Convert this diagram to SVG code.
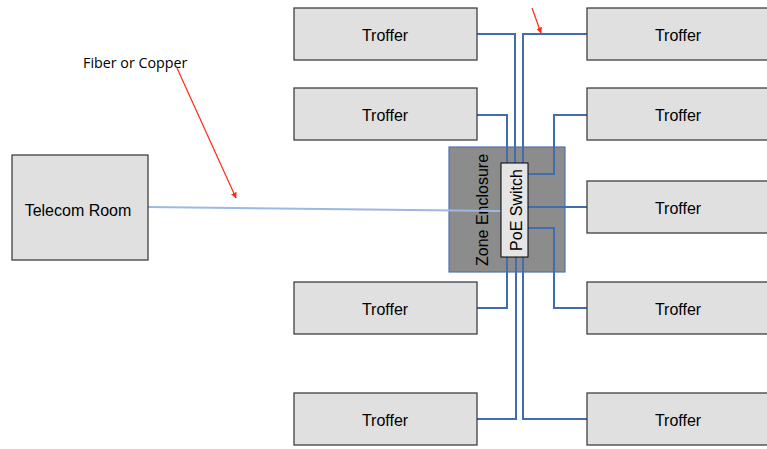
<svg xmlns="http://www.w3.org/2000/svg" width="767" height="449" viewBox="0 0 767 449">
<defs>
<style>
.box{fill:#e0e0e0;stroke:#404040;stroke-width:1.3}
.lbl{font-family:"Liberation Sans",Arial,sans-serif;font-size:16px;fill:#000;text-anchor:middle}
.cable{fill:none;stroke:#3f6db0;stroke-width:2}
.red{stroke:#ff2a10;stroke-width:1.2;fill:none;marker-end:url(#ah)}
</style>
<marker id="ah" viewBox="0 0 10 10" refX="9" refY="5" markerWidth="6" markerHeight="6" orient="auto" markerUnits="userSpaceOnUse">
<path d="M0,0 L10,5 L0,10 z" fill="#ff2a10"/>
</marker>
</defs>
<rect width="767" height="449" fill="#fff"/>

<g id="zone">
<rect x="449" y="147" width="116" height="125" fill="#8c8c8c" stroke="#4d74b3" stroke-width="1.2"/>
<text class="lbl" transform="translate(488,210) rotate(-90)" font-size="17px">Zone Enclosure</text>
</g>

<g id="connectors">
<line x1="148" y1="207" x2="501" y2="211" stroke="#9db8e2" stroke-width="2"/>
<polyline class="cable" points="477,34 515,34 515,163"/>
<polyline class="cable" points="587,34 523,34 523,163"/>
<polyline class="cable" points="477,115 507,115 507,163"/>
<polyline class="cable" points="587,115 554,115 554,174 528,174"/>
<polyline class="cable" points="528,207 587,207"/>
<polyline class="cable" points="528,228 554,228 554,308 587,308"/>
<polyline class="cable" points="477,308 507,308 507,257"/>
<polyline class="cable" points="477,419 516,419 516,257"/>
<polyline class="cable" points="587,419 523,419 523,257"/>
<line class="red" x1="177" y1="68" x2="236" y2="198"/>
<line class="red" x1="532" y1="8" x2="541" y2="33"/>
</g>

<g id="poe">
<rect x="501" y="163" width="27" height="94" fill="#e5e5e5" stroke="#000" stroke-width="1"/>
<text class="lbl" transform="translate(522,210) rotate(-90)" font-size="18px">PoE Switch</text>
</g>

<g id="telecom">
<rect class="box" x="12" y="155" width="136" height="105"/>
<text class="lbl" x="78" y="216">Telecom Room</text>
</g>

<g id="fiber-label">
<text x="83" y="68" font-family="'Open Sans','Liberation Sans',sans-serif" font-size="14.3px" fill="#000">Fiber or Copper</text>
</g>

<g id="troffer-l1"><rect class="box" x="294" y="8" width="183" height="52"/><text class="lbl" x="385" y="41">Troffer</text></g>
<g id="troffer-l2"><rect class="box" x="294" y="88" width="183" height="52"/><text class="lbl" x="385" y="121">Troffer</text></g>
<g id="troffer-l3"><rect class="box" x="294" y="282" width="183" height="52"/><text class="lbl" x="385" y="315">Troffer</text></g>
<g id="troffer-l4"><rect class="box" x="294" y="393" width="183" height="52"/><text class="lbl" x="385" y="426">Troffer</text></g>

<g id="troffer-r1"><rect class="box" x="587" y="8" width="182" height="52"/><text class="lbl" x="678" y="41">Troffer</text></g>
<g id="troffer-r2"><rect class="box" x="587" y="88" width="182" height="52"/><text class="lbl" x="678" y="121">Troffer</text></g>
<g id="troffer-r3"><rect class="box" x="587" y="181" width="182" height="52"/><text class="lbl" x="678" y="214">Troffer</text></g>
<g id="troffer-r4"><rect class="box" x="587" y="282" width="182" height="52"/><text class="lbl" x="678" y="315">Troffer</text></g>
<g id="troffer-r5"><rect class="box" x="587" y="393" width="182" height="52"/><text class="lbl" x="678" y="426">Troffer</text></g>
</svg>
